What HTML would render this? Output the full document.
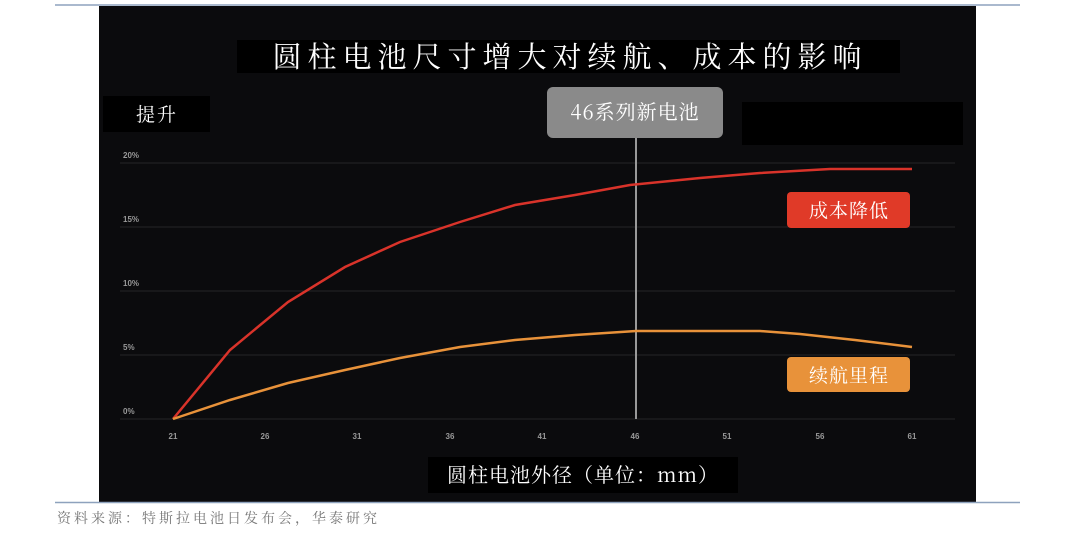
<!DOCTYPE html>
<html><head><meta charset="utf-8"><style>
html,body{margin:0;padding:0;background:#fff;width:1080px;height:551px;overflow:hidden}
</style></head><body>
<svg width="1080" height="551" xmlns="http://www.w3.org/2000/svg" font-family="'Liberation Sans','Noto Serif CJK SC','Noto Sans CJK SC',sans-serif">
<line x1="55" y1="5" x2="1020" y2="5" stroke="#8ea2bd" stroke-width="1.5"/>
<rect x="99" y="6" width="877" height="496" fill="#0b0b0d"/>
<line x1="55" y1="502.5" x2="1020" y2="502.5" stroke="#8ea2bd" stroke-width="1.5"/>
<rect x="237" y="40" width="663" height="33" fill="#000"/>
<text x="570" y="67" fill="#fff" font-size="29" text-anchor="middle" letter-spacing="6" font-family="'Noto Serif CJK SC',serif">圆柱电池尺寸增大对续航、成本的影响</text>
<rect x="103" y="96" width="107" height="36" fill="#000"/>
<text x="157" y="121" fill="#fff" font-size="19" text-anchor="middle" letter-spacing="2" font-family="'Noto Serif CJK SC',serif">提升</text>
<rect x="742" y="102" width="221" height="43" fill="#000"/>
<g stroke="#262628" stroke-width="1">
<line x1="120" y1="163" x2="955" y2="163"/><line x1="120" y1="227" x2="955" y2="227"/>
<line x1="120" y1="291" x2="955" y2="291"/><line x1="120" y1="355" x2="955" y2="355"/>
<line x1="120" y1="419" x2="955" y2="419"/></g>
<g fill="#999" font-size="8" font-weight="bold">
<text x="123" y="158">20%</text><text x="123" y="222">15%</text><text x="123" y="286">10%</text><text x="123" y="350">5%</text><text x="123" y="414">0%</text></g>
<g fill="#999" font-size="8" font-weight="bold" text-anchor="middle">
<text x="173" y="439">21</text><text x="265" y="439">26</text><text x="357" y="439">31</text><text x="450" y="439">36</text><text x="542" y="439">41</text><text x="635" y="439">46</text><text x="727" y="439">51</text><text x="820" y="439">56</text><text x="912" y="439">61</text></g>
<line x1="636" y1="138" x2="636" y2="419" stroke="#999" stroke-width="2"/>
<rect x="547" y="87" width="176" height="51" rx="6" fill="#8a8a8a"/>
<text x="635" y="119" fill="#fff" font-size="20" text-anchor="middle" letter-spacing="1" font-family="'Noto Serif CJK SC',serif">46系列新电池</text>
<polyline fill="none" stroke="#d9332a" stroke-width="2.5" points="173,419 230,350 288,302 345,267 400,242 460,222 515,205 575,195 630,185 700,178 760,173 830,169 912,169"/>
<polyline fill="none" stroke="#e8923a" stroke-width="2.5" points="173,419 230,400 288,383 345,370 400,358 460,347 515,340 575,335 636,331 700,331 760,331 800,334 855,340 912,347"/>
<rect x="787" y="192" width="123" height="36" rx="4" fill="#e03a28"/>
<text x="849" y="217" fill="#fff" font-size="19" text-anchor="middle" letter-spacing="1" font-family="'Noto Serif CJK SC',serif">成本降低</text>
<rect x="787" y="357" width="123" height="35" rx="4" fill="#e8923a"/>
<text x="849" y="382" fill="#fff" font-size="19" text-anchor="middle" letter-spacing="1" font-family="'Noto Serif CJK SC',serif">续航里程</text>
<rect x="428" y="457" width="310" height="36" fill="#000"/>
<text x="583" y="482" fill="#fff" font-size="20" text-anchor="middle" letter-spacing="1" font-family="'Noto Serif CJK SC',serif">圆柱电池外径（单位：mm）</text>
<text x="57" y="523" fill="#777" font-size="14" letter-spacing="3" font-family="'Noto Serif CJK SC',serif">资料来源：特斯拉电池日发布会，华泰研究</text>
</svg>
</body></html>
